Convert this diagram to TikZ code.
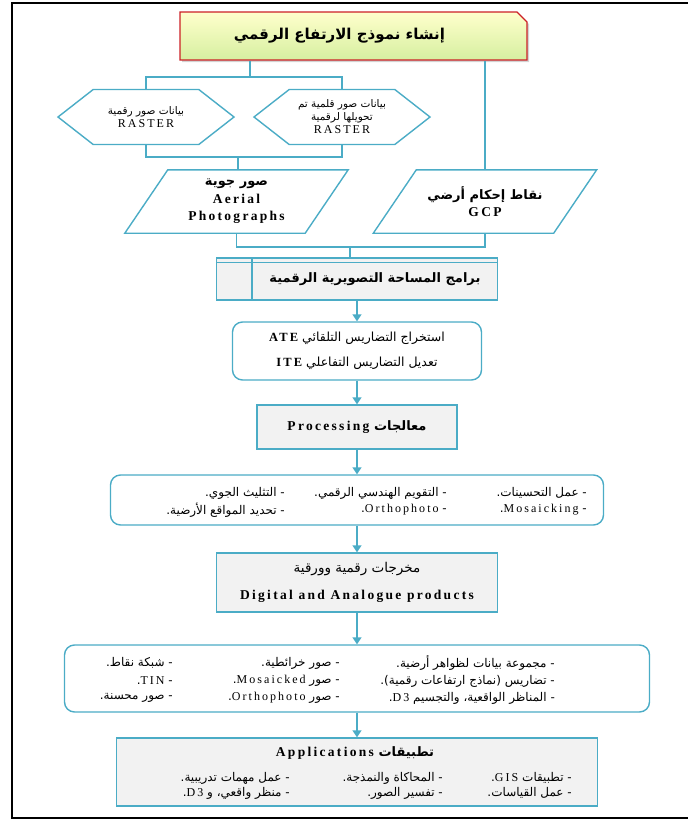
\documentclass[tikz,border=0pt]{standalone}
\usepackage{fontspec}
\setmainfont{Liberation Serif}
\newfontfamily\arabicfont[Script=Arabic]{DejaVu Sans}
\newfontfamily\latinfont[LetterSpace=17]{Liberation Serif}
\TeXXeTstate=1
\usetikzlibrary{shapes.geometric, shapes.misc, shapes.symbols, arrows.meta, positioning, calc, shadows}
\definecolor{flowBlue}{RGB}{75,172,198}
\definecolor{titleRed}{RGB}{204,32,38}
\definecolor{titleTop}{RGB}{255,255,204}
\definecolor{titleBottom}{RGB}{214,239,160}
\definecolor{panelGray}{RGB}{242,242,242}

\newcommand{\artxt}[1]{{\arabicfont\beginR#1\endR}}
\newcommand{\lattxt}[1]{{\latinfont#1}}
\newcommand{\fsz}[1]{\fontsize{#1}{1.2\dimexpr#1pt\relax}\selectfont}

\begin{document}
\begin{tikzpicture}[x=1pt, y=1pt,
    titlebox/.style={
        chamfered rectangle,
        chamfered rectangle corners=north east,
        chamfered rectangle xsep=7pt,
        draw=titleRed, line width=1.2pt,
        top color=titleTop, bottom color=titleBottom,
        drop shadow={opacity=0.35, shadow xshift=2pt, shadow yshift=-2pt},
        minimum width=347pt, minimum height=48pt,
        font=\fontsize{15}{17}\selectfont\bfseries
    },
    hexbox/.style={
        signal, signal to=west and east, signal pointer angle=76,
        draw=flowBlue, line width=1.4pt, fill=white,
        minimum width=176pt, minimum height=55pt,
        align=center, inner sep=1pt,
        font=\fontsize{10.5}{13}\selectfont
    },
    parabox/.style={
        rectangle, minimum width=180pt, minimum height=63pt,
        align=center, inner sep=1pt,
        font=\fontsize{13.5}{17.5}\selectfont\bfseries
    },
    graybox/.style={
        rectangle, draw=flowBlue, line width=1.4pt, fill=panelGray,
        align=center, font=\fontsize{13.5}{27}\selectfont
    },
    roundbox/.style={
        rectangle, rounded corners=10pt,
        draw=flowBlue, line width=1.4pt, fill=white,
        align=center, font=\fontsize{12.5}{25}\selectfont
    },
    entry/.style={anchor=east, inner sep=0pt, font=\fontsize{12}{14}\selectfont},
    link/.style={draw=flowBlue, line width=1.4pt},
    arrow/.style={link, -{Triangle[width=9pt, length=7pt]}}
]
    \useasboundingbox (0,0) rectangle (688,-820);
    \draw[line width=2.5pt] (12,-3) rectangle (760,-818);

    % Title
    \node[titlebox] (title) at (353.5,-36) {\artxt{إنشاء نموذج الارتفاع الرقمي}\hspace*{28pt}};

    % Sources
    \node[hexbox] (hexL) at (146,-117)
        {\artxt{بيانات صور رقمية}\\{\fsz{12}\lattxt{RASTER}}};
    \node[hexbox] (hexR) at (342,-117)
        {\artxt{بيانات صور قلمية تم}\\\artxt{تحويلها لرقمية}\\{\fsz{12}\lattxt{RASTER}}};
    \node[parabox] (paraL) at (236.5,-201.5)
        {\artxt{\fsz{13}صور جوية}\\\lattxt{Aerial}\\\lattxt{Photographs}};
    \node[parabox] (paraR) at (485,-201.5)
        {\artxt{\fsz{13}نقاط إحكام أرضي}\\\lattxt{GCP}};
    \foreach \p in {paraL, paraR} {
        \draw[link] ($(\p.south west)+(-21.5,0)$) -- ($(\p.north west)+(21.5,0)$)
            -- ($(\p.north east)+(21.5,0)$) -- ($(\p.south east)+(-21.5,0)$) -- cycle;
    }

    % Main chain
    \node[graybox, minimum width=281pt, minimum height=42pt, font=\fontsize{13}{15}\selectfont\bfseries]
        (soft) at (357,-279) {\hspace*{36pt}\artxt{برامج المساحة التصويرية الرقمية}};
    \node[roundbox, minimum width=249pt, minimum height=58pt] (ate) at (357,-351)
        {\artxt{استخراج التضاريس التلقائي \lattxt{\bfseries ATE}}\\\artxt{تعديل التضاريس التفاعلي \lattxt{\bfseries ITE}}};
    \node[graybox, minimum width=200pt, minimum height=44pt, font=\fontsize{13.5}{15}\selectfont\bfseries]
        (proc) at (357,-427) {\artxt{{\fsz{13}معالجات} \lattxt{Processing}}};
    \node[roundbox, minimum width=493pt, minimum height=50pt] (steps) at (357,-500) {};
    \node[graybox, minimum width=281pt, minimum height=59pt] (prod) at (357,-582.5)
        {\artxt{\fsz{13.5}مخرجات رقمية وورقية}\\\lattxt{\bfseries Digital and Analogue products}};
    \node[roundbox, minimum width=585pt, minimum height=67pt] (outs) at (357,-678.5) {};
    \node[graybox, minimum width=481pt, minimum height=68pt] (apps) at (357,-772) {};

    % Processing steps
    \node[entry] (st1) at (587,-493) {\artxt{- عمل التحسينات.}};
    \node[entry] (st2) at (447,-493) {\artxt{- التقويم الهندسي الرقمي.}};
    \node[entry] (st3) at (285,-493) {\artxt{- التثليث الجوي.}};
    \node[entry] (st4) at (587,-510) {\artxt{- \lattxt{Mosaicking}.}};
    \node[entry] (st5) at (447,-510) {\artxt{- \lattxt{Orthophoto}.}};
    \node[entry] (st6) at (285,-510) {\artxt{- تحديد المواقع الأرضية.}};

    % Products
    \node[entry] (out1) at (555,-663) {\artxt{- مجموعة بيانات لظواهر أرضية.}};
    \node[entry] (out2) at (340,-663) {\artxt{- صور خرائطية.}};
    \node[entry] (out3) at (173,-663) {\artxt{- شبكة نقاط.}};
    \node[entry] (out4) at (555,-681) {\artxt{- تضاريس (نماذج ارتفاعات رقمية).}};
    \node[entry] (out5) at (340,-681) {\artxt{- صور \lattxt{Mosaicked}.}};
    \node[entry] (out6) at (173,-681) {\artxt{- \lattxt{TIN}.}};
    \node[entry] (out7) at (555,-698) {\artxt{- المناظر الواقعية، والتجسيم \lattxt{D3}.}};
    \node[entry] (out8) at (340,-698) {\artxt{- صور \lattxt{Orthophoto}.}};
    \node[entry] (out9) at (173,-698) {\artxt{- صور محسنة.}};

    % Applications
    \node[font=\fontsize{13.5}{15}\selectfont\bfseries] (appsHead) at (355,-753)
        {\artxt{{\fsz{13}تطبيقات} \lattxt{Applications}}};
    \node[entry] (ap1) at (572,-778) {\artxt{- تطبيقات \lattxt{GIS}.}};
    \node[entry] (ap2) at (443,-778) {\artxt{- المحاكاة والنمذجة.}};
    \node[entry] (ap3) at (290,-778) {\artxt{- عمل مهمات تدريبية.}};
    \node[entry] (ap4) at (572,-793) {\artxt{- عمل القياسات.}};
    \node[entry] (ap5) at (443,-793) {\artxt{- تفسير الصور.}};
    \node[entry] (ap6) at (290,-793) {\artxt{- منظر واقعي، و \lattxt{D3}.}};

    % Connections
    \coordinate (topJoin) at (250,-77);
    \coordinate (hexJoin) at (238,-157);
    \coordinate (paraJoin) at (350,-247);
    \draw[link] (title.south -| topJoin) -- (topJoin);
    \draw[link] (hexL.north) |- (topJoin) -| (hexR.north);
    \draw[link] (title.south -| paraR.north) -- (paraR.north);
    \draw[link] (hexL.south) |- (hexJoin) -| (hexR.south);
    \draw[link] (hexJoin) -- (hexJoin |- paraL.north);
    \draw[link] (paraL.south) |- (paraJoin) -| (paraR.south);
    \draw[link] (paraJoin) -- (paraJoin |- soft.north);
    \draw[link] ($(soft.north west)+(0,-5)$) -- ($(soft.north east)+(0,-5)$);
    \draw[link] ($(soft.north west)+(36,0)$) -- ($(soft.south west)+(36,0)$);

    \foreach \a/\b in {soft/ate, ate/proc, proc/steps, steps/prod, prod/outs, outs/apps} {
        \draw[arrow] (\a.south) -- (\a.south |- \b.north);
    }

\end{tikzpicture}
\end{document}
